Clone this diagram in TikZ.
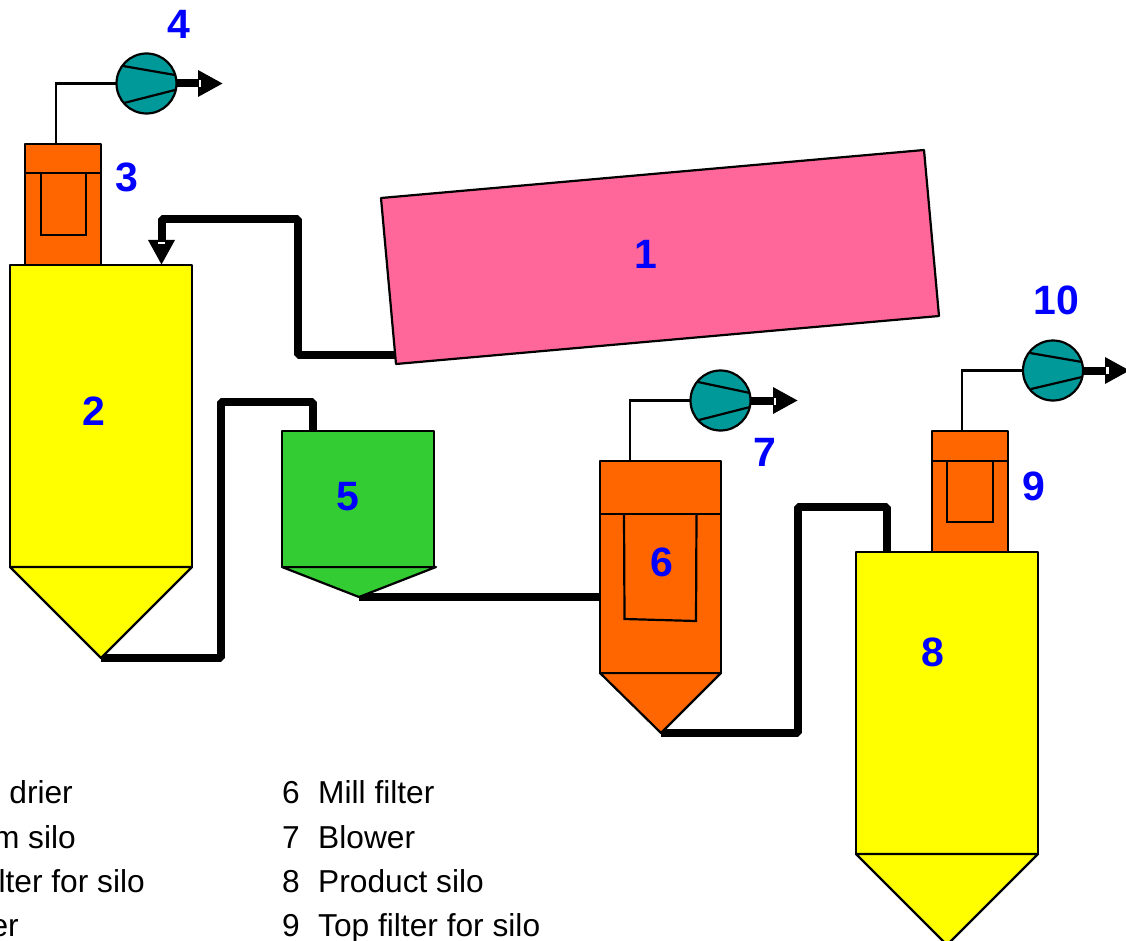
\documentclass[tikz,border=0pt]{standalone}
\usepackage{fontspec}
\setmainfont{Liberation Sans}
\usetikzlibrary{arrows.meta}
\definecolor{cOrange}{HTML}{FF6600}
\definecolor{cYellow}{HTML}{FFFF00}
\definecolor{cGreen}{HTML}{33CC33}
\definecolor{cPink}{HTML}{FF6699}
\definecolor{cTeal}{HTML}{009999}
\definecolor{cBlue}{HTML}{0000FF}
\tikzset{
  vessel/.style={draw=black,line width=2.2pt,line join=round},
  body/.style={vessel,rectangle,inner sep=0pt,outer sep=0pt},
  fanbody/.style={draw=black,line width=2.2pt,circle,fill=cTeal,inner sep=0pt,outer sep=0pt,minimum size=60pt},
  thinline/.style={draw=black,line width=2.2pt},
  pipe/.style={draw=black,line width=8pt,line join=bevel},
  head/.style={-{Triangle[length=25pt,width=25pt]}},
  speck/.style={fill=white,draw=none},
  tag/.style={text=cBlue,font=\fontsize{41}{46}\selectfont\bfseries,inner sep=0pt},
  legend/.style={font=\fontsize{31.7}{36}\selectfont,inner sep=0pt,text=black},
}
\begin{document}
\begin{tikzpicture}[x=1pt,y=-1pt]
\useasboundingbox (0,0) rectangle (1126,941);
\clip (0,0) rectangle (1126,941);
% anchor points
\coordinate (tip2) at (101,658);
\coordinate (tip5) at (359,597);
\coordinate (tip6) at (661,733);
\coordinate (tip8) at (947,945);
\coordinate (d1a) at (381,198);
\coordinate (d1b) at (924,150);
\coordinate (d1c) at (939,316);
\coordinate (d1d) at (396,364);
\coordinate (d1out) at (396,355);
\coordinate (c1) at (298,219);
\coordinate (in2) at (161.5,265);
\coordinate (c2) at (221,402);
\coordinate (in5) at (313,431);
\coordinate (in6) at (600,597);
\coordinate (c4) at (798,507);
\coordinate (in8) at (887,552);
\coordinate (up3) at (56,144);
\coordinate (up6) at (630,461);
\coordinate (up9) at (962,431);
\coordinate (out4) at (223,83.5);
\coordinate (out7) at (798,400.5);
\coordinate (out10) at (1130,370.5);
% pipes
\draw[pipe,head] (d1out) -| (c1) -| (in2);
\draw[pipe] (tip2) -| (c2) -| (in5);
\draw[pipe] (tip5) -- (in6);
\draw[pipe] (tip6) -| (c4) -| (in8);
% drier
\draw[vessel,fill=cPink] (d1a) -- (d1b) -- (d1c) -- (d1d) -- cycle;
% silo 2 + top filter 3
\node[body,fill=cOrange,minimum width=76pt,minimum height=121pt] (filter3) at (63,204.5) {};
\draw[thinline] (25,173) -- (101,173);
\draw[thinline] (41,173) -- (41,235) -- (86,235) -- (86,173);
\node[body,fill=cYellow,minimum width=182pt,minimum height=302pt] (silo2) at (101,416) {};
\draw[vessel,fill=cYellow] (silo2.south west) -- (silo2.south east) -- (tip2) -- cycle;
% hopper 5
\draw[vessel,fill=cGreen] (282,567) -- (436,567) -- (tip5) -- cycle;
\node[body,fill=cGreen,minimum width=152pt,minimum height=136pt] (hopper5) at (358,499) {};
% mill filter 6
\draw[vessel,fill=cOrange] (600,673) -- (721,673) -- (tip6) -- cycle;
\node[body,fill=cOrange,minimum width=121pt,minimum height=212pt] (filter6) at (660.5,567) {};
\draw[thinline] (600,514) -- (721,514);
\draw[thinline] (624,514) -- (624.5,619) -- (696,621) -- (696.5,514);
% product silo 8 + filter 9
\node[body,fill=cOrange,minimum width=76pt,minimum height=121pt] (filter9) at (970,491.5) {};
\draw[thinline] (932,461) -- (1008,461);
\draw[thinline] (947,461) -- (947,522) -- (993,522) -- (993,461);
\node[body,fill=cYellow,minimum width=182pt,minimum height=302pt] (silo8) at (947,703) {};
\draw[vessel,fill=cYellow] (silo8.south west) -- (silo8.south east) -- (tip8) -- cycle;
% fans
\node[fanbody] (fan4) at (146.5,83.5) {};
\node[fanbody] (fan7) at (720.5,400.5) {};
\node[fanbody] (fan10) at (1053,370.5) {};
\draw[thinline] (up3) |- (fan4.west);
\draw[thinline] (up6) |- (fan7.west);
\draw[thinline] (up9) |- (fan10.west);
\draw[thinline] (123,66) -- (175,75) (124,103) -- (175,90);
\draw[thinline] (698,382) -- (750,393) (699,420) -- (750,407);
\draw[thinline] (1030,353) -- (1082,362) (1031,389) -- (1082,377);
\draw[pipe,head] (fan4.east) -- (out4);
\draw[pipe,head] (fan7.east) -- (out7);
\draw[pipe,head] (fan10.east) -- (out10);
\fill[speck] (198.5,80) rectangle (201,87);
\fill[speck] (773.5,397.5) rectangle (776,404.5);
\fill[speck] (1105.5,367) rectangle (1108.5,374);
\fill[speck] (158,242) rectangle (165,244.5);
% number tags
\node[tag] (n1) at (646,254) {1};
\node[tag] (n2) at (94,411) {2};
\node[tag] (n3) at (127,177) {3};
\node[tag] (n4) at (179,24) {4};
\node[tag] (n5) at (348,497) {5};
\node[tag] (n6) at (662,562) {6};
\node[tag] (n7) at (765,452) {7};
\node[tag] (n8) at (933,652) {8};
\node[tag] (n9) at (1034,486) {9};
\node[tag] (n10) at (1056,300) {10};
% legend
\node[legend,anchor=base east] (l1) at (73,803) {drier};
\node[legend,anchor=base east] (l2) at (76,848) {m silo};
\node[legend,anchor=base east] (l3) at (145,892) {lter for silo};
\node[legend,anchor=base east] (l4) at (19,936) {er};
\node[legend,anchor=base west] (l6a) at (282,803) {6};
\node[legend,anchor=base west] (l7a) at (282,848) {7};
\node[legend,anchor=base west] (l8a) at (282,892) {8};
\node[legend,anchor=base west] (l9a) at (282,936) {9};
\node[legend,anchor=base west] (l6) at (318,803) {Mill filter};
\node[legend,anchor=base west] (l7) at (318,848) {Blower};
\node[legend,anchor=base west] (l8) at (318,892) {Product silo};
\node[legend,anchor=base west] (l9) at (318,936) {Top filter for silo};
\end{tikzpicture}
\end{document}
